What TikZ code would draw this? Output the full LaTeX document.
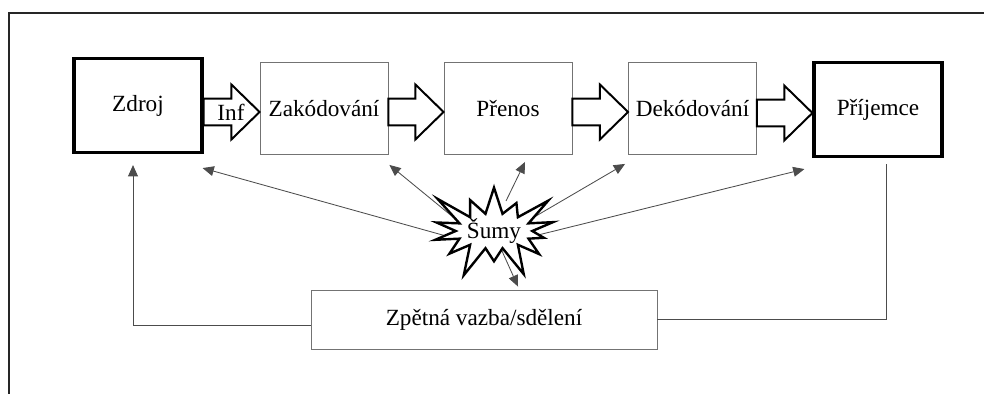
\documentclass[tikz,border=0pt]{standalone}
\usepackage{fontspec}
\setmainfont{Liberation Serif}
\usepackage{tikz}
\usetikzlibrary{calc,arrows.meta,shapes.symbols,backgrounds}

% blokova sipka mezi dvema bloky
\newcommand{\bloksipka}[2]{%
  \draw[blok] let \p1=($(#1.east)+(0,3.5)$), \p2=($(#2.west)+(0,3.5)$) in
    (\x1,\y2+9.5pt) -- (\x2-20pt,\y2+9.5pt) -- (\x2-20pt,\y2+19.5pt) -- (\x2,\y2)
    -- (\x2-20pt,\y2-19.5pt) -- (\x2-20pt,\y2-9.5pt) -- (\x1,\y2-9.5pt) -- cycle;
}

\begin{document}
\begin{tikzpicture}[x=0.025cm,y=-0.025cm,
    font=\fontsize{16.5}{20}\selectfont,
    hlavni/.style={draw=black,line width=2.2pt,minimum width=3.2cm,minimum height=2.35cm,inner sep=0pt},
    proces/.style={draw=black!55,line width=0.6pt,minimum width=3.2cm,minimum height=2.3cm,inner sep=0pt},
    blok/.style={draw=black,line width=1.4pt,fill=white},
    sum/.style={starburst,starburst points=14,starburst point height=0.9cm,draw=black,
      line width=1.7pt,fill=white,inner sep=0pt,minimum width=2.95cm,minimum height=2.6cm},
    sumsipka/.style={draw=black!70,line width=0.6pt,-{Triangle[length=8pt,width=7pt]}},
    zpet/.style={draw=black!70,line width=0.7pt}]
  \useasboundingbox (0,0) rectangle (984,394);

  % ramecek
  \draw[line width=1.4pt,black!85] (984,13) -- (9,13) -- (9,394);

  % bloky
  \node[hlavni] (zdroj) at (138,105.5) {Zdroj};
  \node[proces] (zakod) at (324,108.5) {Zakódování};
  \node[proces] (prenos) at (508,108.5) {Přenos};
  \node[proces] (dekod) at (692.5,108.5) {Dekódování};
  \node[hlavni] (prij) at (878,109.5) {Příjemce};
  \node[proces,minimum width=8.65cm,minimum height=1.475cm] (zpet) at (484,319.5) {Zpětná vazba/sdělení};

  % sipky
  \bloksipka{zdroj}{zakod}
  \bloksipka{zakod}{prenos}
  \bloksipka{prenos}{dekod}
  \bloksipka{dekod}{prij}
  \node (inf) at (231,112) {Inf};

  % sumy
  \node[sum] (sumy) at (494,231) {Šumy};

  \begin{scope}[on background layer]
    \draw[sumsipka] ([shift={(-30,10)}]sumy.center) -- ([shift={(-1,14)}]zdroj.south east);
    \draw[sumsipka] ([shift={(-30,-5)}]sumy.center) -- ([shift={(1,10)}]zakod.south east);
    \draw[sumsipka] ([shift={(12,-30)}]sumy.center) -- ([shift={(17,7)}]prenos.south);
    \draw[sumsipka] ([shift={(30,-8)}]sumy.center) -- ([shift={(-3,9)}]dekod.south west);
    \draw[sumsipka] ([shift={(32,7)}]sumy.center) -- ([shift={(-8,11)}]prij.south west);
    \draw[sumsipka] ([shift={(8,20)}]sumy.center) -- ([shift={(34,-3)}]zpet.north);
  \end{scope}

  % zpetna vazba
  \draw[zpet,-{Triangle[length=8pt,width=7pt]}] ([yshift=-0.15cm]zpet.west) -| ([shift={(-5,11)}]zdroj.south);
  \draw[zpet] (zpet.east) -| ([shift={(8,6)}]prij.south);
\end{tikzpicture}
\end{document}
